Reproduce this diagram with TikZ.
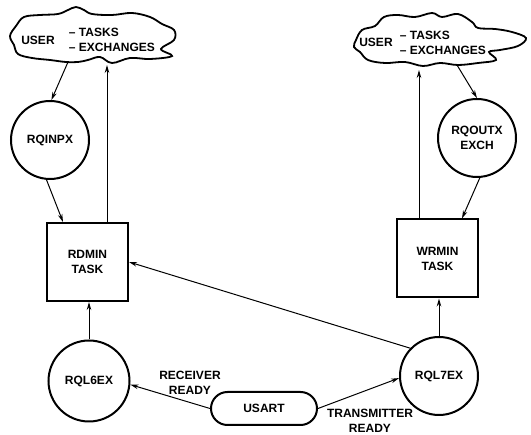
\documentclass[tikz,border=0pt]{standalone}
\usepackage{fontspec}
\setmainfont{Liberation Sans}
\usetikzlibrary{arrows.meta}

\begin{document}
\begin{tikzpicture}[x=1pt, y=-1pt, auto,
    font=\fontsize{12}{15}\selectfont\bfseries,
    >={Stealth[length=8pt,width=4.5pt]},
    conn/.style={->, line width=1pt},
    cloudline/.style={line width=1.8pt, tension=0.6},
    proc/.style={circle, draw, line width=2pt, minimum size=78pt, inner sep=0pt, align=center},
    taskbox/.style={rectangle, draw, line width=2pt, minimum width=81pt, minimum height=78pt, align=center},
    port/.style={rectangle, draw, line width=2pt, rounded corners=16.5pt, minimum width=106pt, minimum height=33pt}]
    \useasboundingbox (0,0) rectangle (531,435);
    \draw[cloudline] plot[smooth cycle] coordinates {(10,36) (16,26) (24,17) (40,15) (58,14) (68,10) (76,7) (84,10) (92,14) (112,15) (132,13) (150,17) (162,24) (174,30) (174,40) (161,49) (172,56) (150,59) (130,58) (112,63) (100,57) (88,60) (78,62) (66,62) (50,60) (32,58) (18,54) (14,45)};
    \draw[cloudline] plot[smooth cycle] coordinates {(356,40) (362,30) (375,26) (384,17) (398,15) (415,17) (432,13) (442,17) (458,14) (472,22) (478,28) (495,29) (512,32) (526,38) (518,46) (500,50) (489,52) (496,60) (478,63) (458,65) (440,63) (423,66) (405,62) (385,63) (368,60) (360,52) (354,47)};
    \node (U1) at (38,40) {USER};
    \node[align=left] (L1) at (112,39.5) {-- TASKS\\-- EXCHANGES};
    \node (U2) at (376,42) {USER};
    \node[align=left] (L2) at (443,42.5) {-- TASKS\\-- EXCHANGES};
    \coordinate (la) at (68,62);
    \coordinate (lb) at (107,65);
    \coordinate (ra) at (419,70);
    \coordinate (rb) at (457,65);
    \node[proc] (A) at (50,140) {RQINPX};
    \node[proc] (B) at (477,138) {RQOUTX\\EXCH};
    \node[taskbox] (C) at (87.5,262) {RDMIN\\TASK};
    \node[taskbox] (D) at (437.5,258.5) {WRMIN\\TASK};
    \node[proc, minimum size=81pt] (E) at (89,381) {RQL6EX};
    \node[proc] (F) at (439,376) {RQL7EX};
    \node[port] (G) at (264,408.5) {USART};
    \node[align=center] (RR) at (190,383) {RECEIVER\\READY};
    \node[align=center] (TR) at (370,421) {TRANSMITTER\\READY};
    \draw[conn] (la) to (A.88);
    \draw[conn] (A.-95) to ([xshift=17pt]C.north west);
    \draw[conn] (C.north -| lb) to (lb);
    \draw[conn] (E.north) to (E.north |- C.south);
    \draw[conn] (F.136) to (C.east);
    \draw[conn] (F.north) to (F.north |- D.south);
    \draw[conn] (D.north -| ra) to (ra);
    \draw[conn] (rb) to (B.north);
    \draw[conn] (B.-86) to ([xshift=-17pt]D.north east);
    \draw[conn] (G.west) to (E.-5);
    \draw[conn] (G.east) to (F.183);
    \end{tikzpicture}
\end{document}
